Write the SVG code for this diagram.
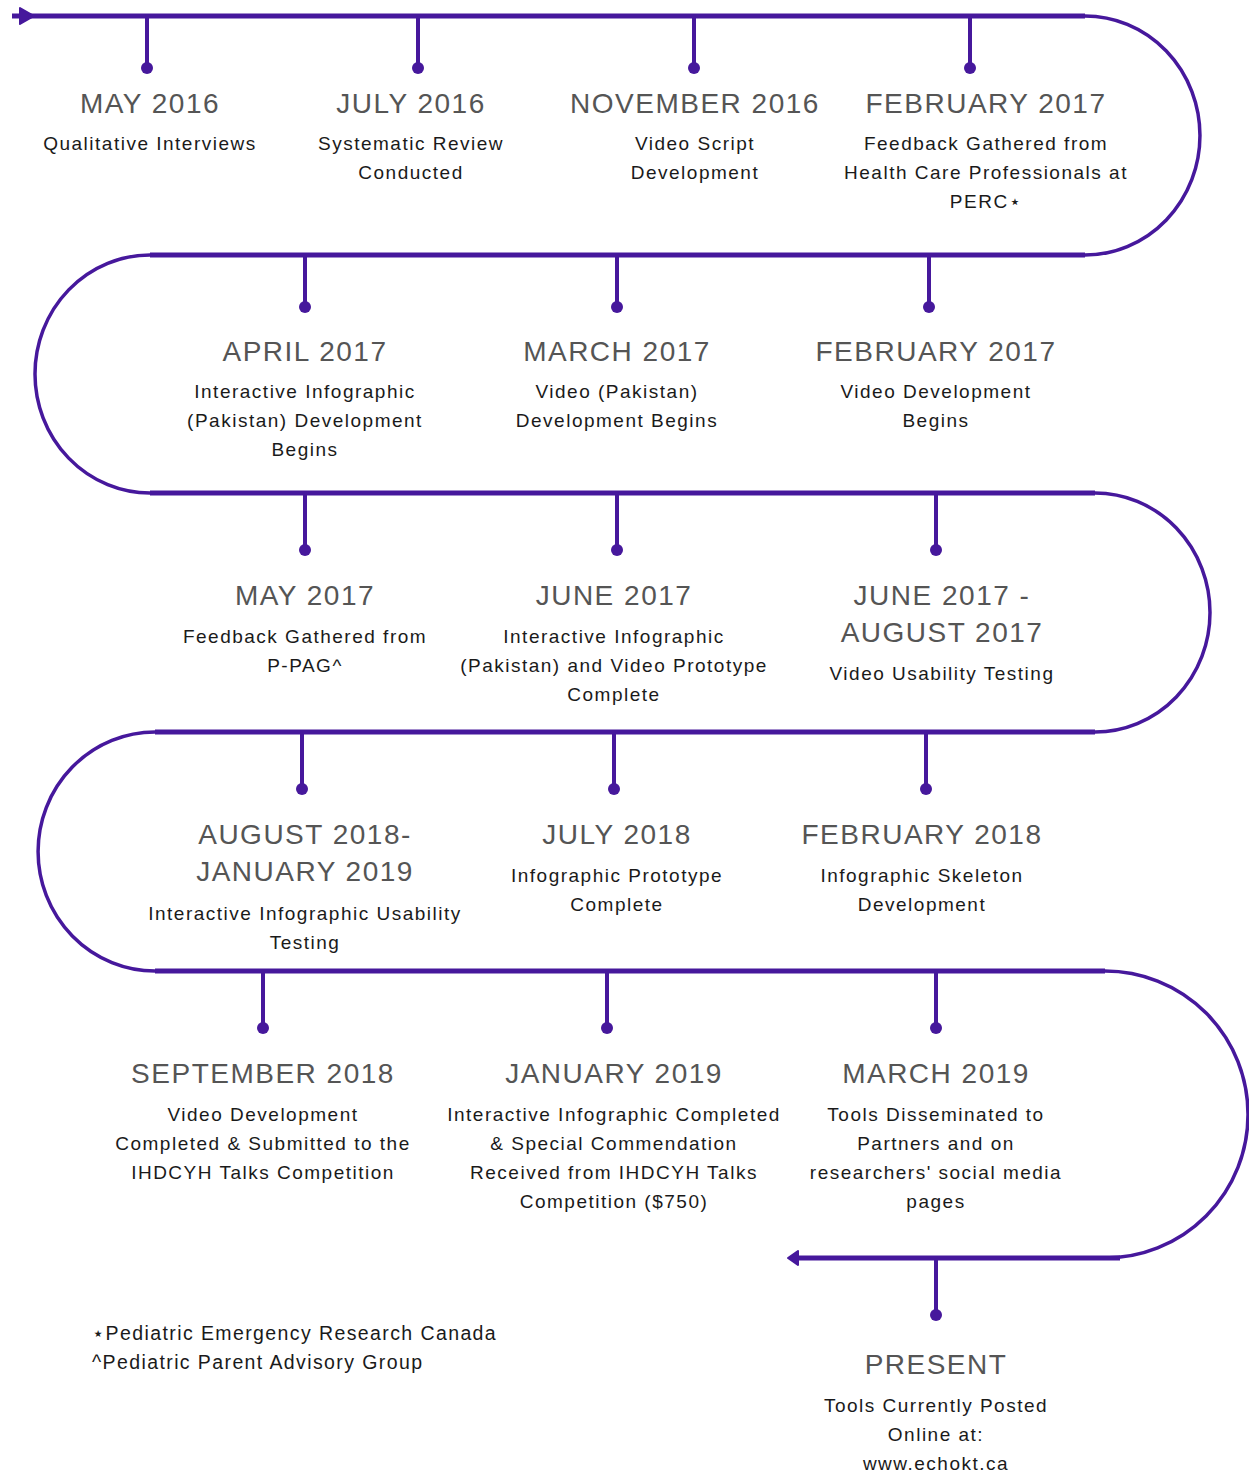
<svg xmlns="http://www.w3.org/2000/svg" width="1249" height="1472" viewBox="0 0 1249 1472">
<style>
.main{fill:none;stroke:#46189c;stroke-width:5;stroke-linecap:butt}
.curve{fill:none;stroke:#46189c;stroke-width:3.5}
.tick{stroke:#46189c;stroke-width:4}
.dot{fill:#46189c}
.arrow{fill:#46189c;stroke:#46189c;stroke-width:2;stroke-linejoin:round}
.t{font-family:"Liberation Sans",Arial,sans-serif;font-size:28px;letter-spacing:1.5px;fill:#555555;text-anchor:middle}
.d{font-family:"Liberation Sans",Arial,sans-serif;font-size:19px;letter-spacing:1.5px;fill:#1a1a1a;text-anchor:middle}
.f{font-family:"Liberation Sans","DejaVu Sans",Arial,sans-serif;font-size:19.5px;letter-spacing:1.4px;fill:#1a1a1a}
</style>
<g id="connectors">
<path class="main" d="M12,16 H1085"/>
<path class="curve" d="M1085,16 A115,119.5 0 0 1 1085,255"/>
<path class="main" d="M1085,255 H150"/>
<path class="curve" d="M150,255 A115,119 0 0 0 150,493"/>
<path class="main" d="M150,493 H1095"/>
<path class="curve" d="M1095,493 A115,119.5 0 0 1 1095,732"/>
<path class="main" d="M1095,732 H155"/>
<path class="curve" d="M155,732 A117,119.5 0 0 0 155,971"/>
<path class="main" d="M155,971 H1105"/>
<path class="curve" d="M1105,971 A143,143.5 0 0 1 1105,1258"/>
<path class="main" d="M1120,1258 H795"/>
<polygon class="arrow" points="20,8 34,16 20,24"/>
<polygon class="arrow" points="798,1251 788,1258 798,1265"/>
</g>
<g id="ticks">
<line class="tick" x1="147" y1="16" x2="147" y2="68"/><circle class="dot" cx="147" cy="68" r="6"/>
<line class="tick" x1="418" y1="16" x2="418" y2="68"/><circle class="dot" cx="418" cy="68" r="6"/>
<line class="tick" x1="694" y1="16" x2="694" y2="68"/><circle class="dot" cx="694" cy="68" r="6"/>
<line class="tick" x1="970" y1="16" x2="970" y2="68"/><circle class="dot" cx="970" cy="68" r="6"/>
<line class="tick" x1="305" y1="255" x2="305" y2="307"/><circle class="dot" cx="305" cy="307" r="6"/>
<line class="tick" x1="617" y1="255" x2="617" y2="307"/><circle class="dot" cx="617" cy="307" r="6"/>
<line class="tick" x1="929" y1="255" x2="929" y2="307"/><circle class="dot" cx="929" cy="307" r="6"/>
<line class="tick" x1="305" y1="493" x2="305" y2="550"/><circle class="dot" cx="305" cy="550" r="6"/>
<line class="tick" x1="617" y1="493" x2="617" y2="550"/><circle class="dot" cx="617" cy="550" r="6"/>
<line class="tick" x1="936" y1="493" x2="936" y2="550"/><circle class="dot" cx="936" cy="550" r="6"/>
<line class="tick" x1="302" y1="732" x2="302" y2="789"/><circle class="dot" cx="302" cy="789" r="6"/>
<line class="tick" x1="614" y1="732" x2="614" y2="789"/><circle class="dot" cx="614" cy="789" r="6"/>
<line class="tick" x1="926" y1="732" x2="926" y2="789"/><circle class="dot" cx="926" cy="789" r="6"/>
<line class="tick" x1="263" y1="971" x2="263" y2="1028"/><circle class="dot" cx="263" cy="1028" r="6"/>
<line class="tick" x1="607" y1="971" x2="607" y2="1028"/><circle class="dot" cx="607" cy="1028" r="6"/>
<line class="tick" x1="936" y1="971" x2="936" y2="1028"/><circle class="dot" cx="936" cy="1028" r="6"/>
<line class="tick" x1="936" y1="1258" x2="936" y2="1315"/><circle class="dot" cx="936" cy="1315" r="6"/>
</g>
<g id="may2016"><text class="t" x="150" y="113">MAY 2016</text><text class="d" x="150" y="150">Qualitative Interviews</text></g>
<g id="jul2016"><text class="t" x="411" y="113">JULY 2016</text><text class="d" x="411" y="150">Systematic Review</text><text class="d" x="411" y="179">Conducted</text></g>
<g id="nov2016"><text class="t" x="695" y="113">NOVEMBER 2016</text><text class="d" x="695" y="150">Video Script</text><text class="d" x="695" y="179">Development</text></g>
<g id="feb2017a"><text class="t" x="986" y="113">FEBRUARY 2017</text><text class="d" x="986" y="150">Feedback Gathered from</text><text class="d" x="986" y="179">Health Care Professionals at</text><text class="d" x="986" y="208">PERC⋆</text></g>
<g id="apr2017"><text class="t" x="305" y="361">APRIL 2017</text><text class="d" x="305" y="398">Interactive Infographic</text><text class="d" x="305" y="427">(Pakistan) Development</text><text class="d" x="305" y="456">Begins</text></g>
<g id="mar2017"><text class="t" x="617" y="361">MARCH 2017</text><text class="d" x="617" y="398">Video (Pakistan)</text><text class="d" x="617" y="427">Development Begins</text></g>
<g id="feb2017b"><text class="t" x="936" y="361">FEBRUARY 2017</text><text class="d" x="936" y="398">Video Development</text><text class="d" x="936" y="427">Begins</text></g>
<g id="may2017"><text class="t" x="305" y="605">MAY 2017</text><text class="d" x="305" y="643">Feedback Gathered from</text><text class="d" x="305" y="672">P-PAG^</text></g>
<g id="jun2017"><text class="t" x="614" y="605">JUNE 2017</text><text class="d" x="614" y="643">Interactive Infographic</text><text class="d" x="614" y="672">(Pakistan) and Video Prototype</text><text class="d" x="614" y="701">Complete</text></g>
<g id="jun-aug2017"><text class="t" x="942" y="605">JUNE 2017 -</text><text class="t" x="942" y="642">AUGUST 2017</text><text class="d" x="942" y="680">Video Usability Testing</text></g>
<g id="aug2018-jan2019"><text class="t" x="305" y="844">AUGUST 2018-</text><text class="t" x="305" y="881">JANUARY 2019</text><text class="d" x="305" y="920">Interactive Infographic Usability</text><text class="d" x="305" y="949">Testing</text></g>
<g id="jul2018"><text class="t" x="617" y="844">JULY 2018</text><text class="d" x="617" y="882">Infographic Prototype</text><text class="d" x="617" y="911">Complete</text></g>
<g id="feb2018"><text class="t" x="922" y="844">FEBRUARY 2018</text><text class="d" x="922" y="882">Infographic Skeleton</text><text class="d" x="922" y="911">Development</text></g>
<g id="sep2018"><text class="t" x="263" y="1083">SEPTEMBER 2018</text><text class="d" x="263" y="1121">Video Development</text><text class="d" x="263" y="1150">Completed &amp; Submitted to the</text><text class="d" x="263" y="1179">IHDCYH Talks Competition</text></g>
<g id="jan2019"><text class="t" x="614" y="1083">JANUARY 2019</text><text class="d" x="614" y="1121">Interactive Infographic Completed</text><text class="d" x="614" y="1150">&amp; Special Commendation</text><text class="d" x="614" y="1179">Received from IHDCYH Talks</text><text class="d" x="614" y="1208">Competition ($750)</text></g>
<g id="mar2019"><text class="t" x="936" y="1083">MARCH 2019</text><text class="d" x="936" y="1121">Tools Disseminated to</text><text class="d" x="936" y="1150">Partners and on</text><text class="d" x="936" y="1179">researchers' social media</text><text class="d" x="936" y="1208">pages</text></g>
<g id="present"><text class="t" x="936" y="1374">PRESENT</text><text class="d" x="936" y="1412">Tools Currently Posted</text><text class="d" x="936" y="1441">Online at:</text><text class="d" x="936" y="1470">www.echokt.ca</text></g>
<g id="footnotes"><text class="f" x="92" y="1340">⋆Pediatric Emergency Research Canada</text><text class="f" x="92" y="1369">^Pediatric Parent Advisory Group</text></g>
</svg>
